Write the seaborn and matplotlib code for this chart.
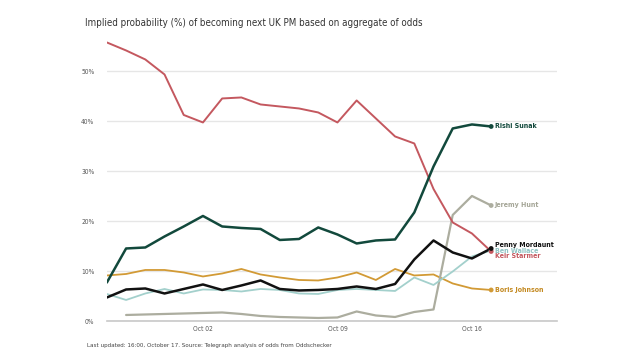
import pandas as pd
import numpy as np
import matplotlib
matplotlib.use("Agg")
import matplotlib.pyplot as plt
import matplotlib.dates as mdates
import seaborn as sns

# ---- data ----
dates = ["2022-09-27", "2022-09-28", "2022-09-29", "2022-09-30", "2022-10-01",
         "2022-10-02", "2022-10-03", "2022-10-04", "2022-10-05", "2022-10-06",
         "2022-10-07", "2022-10-08", "2022-10-09", "2022-10-10", "2022-10-11",
         "2022-10-12", "2022-10-13", "2022-10-14", "2022-10-15", "2022-10-16",
         "2022-10-17"]

keir_starmer = [55.8, 54.2, 52.4, 49.4, 41.3, 39.8, 44.6, 44.8, 43.4, 43.0, 42.6,
                41.8, 39.8, 44.2, 40.6, 37.0, 35.6, 26.5, 19.8, 17.6, 14.0]
rishi_sunak = [7.8, 14.6, 14.8, 17.0, 19.0, 21.1, 19.0, 18.7, 18.5, 16.3, 16.5,
               18.8, 17.4, 15.6, 16.2, 16.4, 21.8, 31.0, 38.6, 39.4, 39.0]
boris_johnson = [9.2, 9.5, 10.3, 10.3, 9.8, 9.0, 9.6, 10.5, 9.4, 8.8, 8.3,
                 8.2, 8.8, 9.8, 8.3, 10.5, 9.2, 9.4, 7.6, 6.6, 6.3]
penny_mordaunt = [4.8, 6.4, 6.6, 5.6, 6.5, 7.4, 6.3, 7.2, 8.2, 6.5, 6.2,
                  6.3, 6.5, 7.0, 6.5, 7.5, 12.4, 16.2, 13.8, 12.6, 14.6]
ben_wallace = [5.5, 4.3, 5.6, 6.5, 5.6, 6.4, 6.3, 6.0, 6.5, 6.3, 5.6,
               5.5, 6.3, 6.5, 6.3, 6.1, 8.8, 7.3, 10.0, 13.0, 14.2]
jeremy_hunt = [np.nan, 1.3, 1.4, 1.5, 1.6, 1.7, 1.8, 1.5, 1.1, 0.9, 0.8,
               0.7, 0.8, 2.0, 1.2, 0.9, 1.9, 2.4, 21.3, 25.1, 23.2]

names = ["Boris Johnson", "Jeremy Hunt", "Ben Wallace", "Keir Starmer",
         "Penny Mordaunt", "Rishi Sunak"]
values = [boris_johnson, jeremy_hunt, ben_wallace, keir_starmer,
          penny_mordaunt, rishi_sunak]

colours = {"Keir Starmer": "#c4585f", "Rishi Sunak": "#12493c",
           "Boris Johnson": "#d29a35", "Penny Mordaunt": "#111111",
           "Ben Wallace": "#a3d0cc", "Jeremy Hunt": "#acad9f"}
label_colours = {"Keir Starmer": "#c4585f", "Rishi Sunak": "#12493c",
                 "Boris Johnson": "#c48a22", "Penny Mordaunt": "#111111",
                 "Ben Wallace": "#8fc4c4", "Jeremy Hunt": "#a4a596"}
widths = {"Keir Starmer": 1.4, "Rishi Sunak": 1.8, "Boris Johnson": 1.3,
          "Penny Mordaunt": 1.8, "Ben Wallace": 1.3, "Jeremy Hunt": 1.6}
label_dy = {"Keir Starmer": -3.5, "Rishi Sunak": 0, "Boris Johnson": 0,
            "Penny Mordaunt": 2.5, "Ben Wallace": -0.5, "Jeremy Hunt": 0}

frames = []
for n, v in zip(names, values):
    frames.append(pd.DataFrame({"date": pd.to_datetime(dates), "pct": v, "name": n}))
df = pd.concat(frames, ignore_index=True)

# ---- plot ----
sns.set_theme(style="white")
plt.rcParams["font.family"] = ["DejaVu Sans"]
plt.rcParams["font.stretch"] = "condensed"

fig = plt.figure(figsize=(6.4, 3.6), dpi=100)
ax = fig.add_axes([0.167, 0.107, 0.703, 0.782])

for n in names:
    sub = df[df["name"] == n]
    sns.lineplot(data=sub, x="date", y="pct", color=colours[n], linewidth=widths[n],
                 ax=ax, legend=False)

last = df[df["date"] == df["date"].max()]
for n in names:
    row = last[last["name"] == n]
    sns.scatterplot(data=row, x="date", y="pct", color=colours[n], s=12,
                    edgecolor="none", ax=ax, legend=False, zorder=5)

for n in ["Ben Wallace", "Keir Starmer", "Boris Johnson", "Jeremy Hunt",
          "Penny Mordaunt", "Rishi Sunak"]:
    row = last[last["name"] == n].iloc[0]
    ax.annotate(n, (row["date"], row["pct"]), xytext=(2.5, label_dy[n]),
                textcoords="offset points", va="center", ha="left",
                fontsize=5.0, color=label_colours[n], fontweight="bold",
                fontstretch="condensed")

ax.set_xlim(pd.Timestamp("2022-09-27"), pd.Timestamp("2022-10-20 10:00"))
ax.set_ylim(0, 56.3)
ax.set_yticks([0, 10, 20, 30, 40, 50])
ax.yaxis.set_major_formatter(matplotlib.ticker.FuncFormatter(lambda v, p: f"{v:.0f}%"))
ax.set_xticks(pd.to_datetime(["2022-10-02", "2022-10-09", "2022-10-16"]))
ax.xaxis.set_major_formatter(mdates.DateFormatter("%b %d"))
ax.grid(axis="y", color="#e6e6e6", linewidth=1)
ax.set_axisbelow(True)
ax.tick_params(axis="both", length=0, labelsize=4.8, colors="#555555")
ax.tick_params(axis="y", pad=9)
ax.tick_params(axis="x", pad=3)
for s in ["top", "right", "left"]:
    ax.spines[s].set_visible(False)
ax.spines["bottom"].set_color("#c8c8c8")
ax.spines["bottom"].set_linewidth(1.2)
ax.set_xlabel("")
ax.set_ylabel("")

fig.text(0.133, 0.936, "Implied probability (%) of becoming next UK PM based on aggregate of odds",
         fontsize=7.0, color="#333333", va="center", ha="left", fontstretch="condensed")
fig.text(0.136, 0.039, "Last updated: 16:00, October 17. Source: Telegraph analysis of odds from Oddschecker",
         fontsize=4.5, color="#444444", va="center", ha="left", fontstretch="condensed")

fig.savefig("out.png", dpi=100)
